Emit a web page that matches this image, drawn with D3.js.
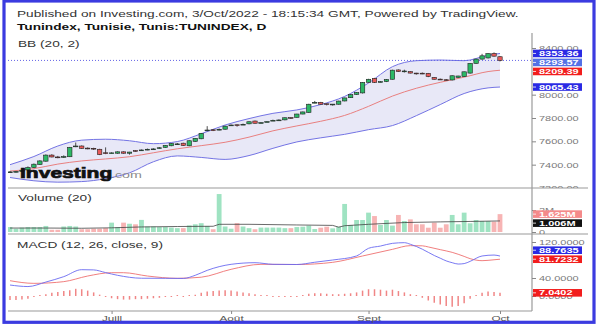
<!DOCTYPE html>
<html>
<head>
<meta charset="utf-8">
<script src="https://cdn.jsdelivr.net/npm/d3@7"></script>
<style>
  body { margin: 0; background: #fff; }
  svg { display: block; }
</style>
</head>
<body>
<svg id="chart" width="598" height="326"></svg>
<script>
// Tunindex daily bars, 7 Jun -> 3 Oct 2022
var open = [7336,7338,7342,7355,7376,7402,7430,7482,7466,7464, 7468,7556,7560,7542,7540,7532,7502,7500,7498,7510,
  7498,7521,7522,7528,7532,7540,7548,7562,7578,7584, 7562,7600,7622,7692,7699,7700,7704,7738,7742,7744,
  7750,7774,7758,7766,7778,7780,7784,7804,7806,7834, 7848,7930,7934,7922,7918,7918,7946,7974,8002,8015,
  8106,8140,8110,8112,8132,8212,8200,8197,8185,8184, 8183,8148,8133,8128,8126,8148,8155,8185,8268,8305,
  8315,8353,8325]
var high = [7345,7346,7360,7385,7410,7438,7488,7490,7475,7480, 7552,7590,7565,7548,7545,7536,7548,7506,7514,7514,
  7510,7524,7530,7538,7540,7550,7568,7585,7586,7588, 7608,7628,7672,7730,7705,7710,7734,7744,7744,7752,
  7770,7778,7764,7772,7786,7788,7805,7806,7836,7855, 7922,7946,7938,7924,7920,7948,7975,8004,8022,8108,
  8136,8144,8116,8134,8214,8216,8214,8200,8187,8190, 8186,8150,8138,8134,8165,8162,8198,8270,8308,8350,
  8356,8362,8330]
var low = [7330,7332,7338,7350,7372,7398,7425,7462,7455,7458, 7465,7550,7535,7532,7526,7482,7490,7494,7494,7494,
  7486,7512,7518,7524,7526,7536,7545,7558,7570,7560, 7558,7596,7618,7688,7688,7694,7700,7734,7726,7740,
  7746,7752,7755,7764,7774,7776,7780,7792,7804,7832, 7845,7926,7915,7908,7906,7915,7943,7972,7998,8010,
  8104,8100,8106,8108,8130,8195,8190,8182,8172,8176, 8150,8130,8126,8120,8122,8145,8152,8180,8265,8300,
  8310,8326,8285]
var close = [7338,7342,7352,7376,7404,7432,7482,7466,7464,7470, 7548,7560,7540,7540,7534,7486,7498,7501,7510,7498,
  7508,7519,7526,7532,7535,7545,7565,7582,7578,7564, 7605,7626,7668,7697,7696,7703,7730,7740,7741,7746,
  7768,7755,7760,7769,7780,7783,7802,7803,7834,7852, 7918,7934,7918,7920,7919,7945,7972,8000,8018,8105,
  8132,8105,8112,8130,8210,8198,8203,8185,8184,8182, 8156,8132,8131,8126,8162,8160,8196,8268,8305,8333,
  8352,8330,8293.57]

// volume, millions
var volume = [0.45,0.3,0.4,0.45,0.45,0.45,0.55,0.2,0.2,0.5, 0.55,0.5,0.25,0.25,0.3,0.3,0.35,0.85,0.45,0.85,
  0.75,0.7,1.1,0.5,0.5,0.45,0.45,0.4,0.35,0.35, 0.6,0.7,0.8,0.55,0.25,3.45,0.5,0.3,0.8,0.5,
  0.35,0.25,0.4,0.4,0.4,0.4,0.35,0.35,0.45,0.48, 0.58,0.27,0.39,0.48,0.33,0.48,2.55,0.64,1.09,1.09,
  1.76,1.45,0.64,1.09,0.58,1.55,1.0,1.15,0.7,0.7, 0.39,0.85,0.39,0.7,1.55,0.7,1.76,0.79,1.09,1.0,
  1.0,0.94,1.625]
var volMaIdx = [0,6,12,17,22,28,34,35,40,48,54,55,56,60,66,72,77,82]
var volMa = [0.36,0.36,0.34,0.38,0.46,0.5,0.52,0.7,0.7,0.64,0.6,0.44,0.57,0.7,0.86,0.92,0.96,1.006]

// bollinger bands (20, 2), sampled every few bars
var bbIdx = [0,4,8,12,16,20,24,28,32,36,40,44,48,52,56,60,64,68,72,76,80,82]
var bbUpper = [7400,7470,7560,7610,7618,7605,7580,7598,7665,7740,7795,7840,7869,7915,7985,8100,8240,8291,8297,8291,8338,8353.36]
var bbBasis = [7345,7366,7405,7432,7449,7468,7502,7536,7563,7592,7636,7690,7732,7772,7822,7900,7988,8055,8106,8150,8198,8209.39]
var bbLower = [7290,7262,7250,7255,7280,7330,7425,7475,7462,7445,7478,7540,7595,7630,7660,7700,7735,7820,7915,8010,8058,8065.43]

// MACD (12, 26, close, 9)
var macdIdx = [0,3,6,9,12,14,16,18,22,26,29,31,33,37,41,44,48,51,54,58,60,62,64,66,67,69,70,71,72,73,74,75,76,77,79,81,82]
var macdLine = [24.4,21,31,43,58.5,58,52,46,39.5,39.3,39,46,57,70.4,74,70.4,70,75,80,89,106,111,117,118.5,115,104,97,90,84,78,74,71,72,77,88.9,91,88.7635]
var signalIdx = [0,4,9,13,17,19,23,28,32,37,42,48,54,59,64,67,69,70,72,74,76,77,79,81,82]
var signalLine = [34,28.1,31.9,44.4,51.8,51.8,44.4,39.3,41.8,59.3,70.4,70,74.8,88.9,103.7,111.9,111.5,109,103,97,88,83,78.5,80.5,81.7232]
var macdHist = [-9,-9,-8,-6,-2,1,4,7,9,11, 13,16,15,12,8,3,-2,-5,-7,-8, -8,-7,-7,-6,-5,-4,-2,-1,0.5,-1,
  1,3,7,10,11,12,13,12,10,8, 6,4,2,0.5,-1,-2,-2,-1,-1,2, 5,6,6,5,4,4,5,6,8,12,
  15,15,14,12,14,11,8,4,1,-4, -10,-15,-19,-22,-24,-22,-16,-6,2,7, 10,9,7.0402]

var monthTicks = [17, 37, 60, 82]
var monthLabels = ['Juill', 'Août', 'Sept', 'Oct']
// ticks that stay visible next to the value boxes
var priceTicks = [7200, 7400, 7600, 7800, 8000, 8400]
var volTicks = [0, 2]
var macdTicks = [0, 40, 120]

var settings = {
  left: 8,
  right: 532,
  pricePane: [33, 188],
  volPane: [188, 234],
  macdPane: [234, 311],
  stretch: 1.5,
  font: "'Liberation Sans', Arial, sans-serif"
}

// the source image is squashed vertically, so text gets stretched sideways
function widen(sel, k) {
  sel.each(function() {
    var w = this.getComputedTextLength()
    this.setAttribute('lengthAdjust', 'spacingAndGlyphs')
    this.setAttribute('textLength', w * k)
  })
}

class Chart {

  constructor(selector, settings) {
    this.selector = selector
    this.settings = settings
  }

  init() {
    this.svg = d3.select(this.selector)
      .attr('font-family', this.settings.font)
    this.defs = this.svg.append('defs')
    this.initScales()
    this.drawPrice()
    this.drawVolume()
    this.drawMacd()
    this.drawFrame()
    this.drawAxes()
    this.drawTitles()
    this.drawBoxes()
  }

  initScales() {
    this.x = d3.scaleLinear().domain([0, close.length - 1]).range([10, 500])
    this.yPrice = d3.scaleLinear().domain([7200, 8400]).range([188, 48])
    this.yVol = d3.scaleLinear().domain([0, 2]).range([232, 210])
    this.yMacd = d3.scaleLinear().domain([0, 120]).range([296, 242])
  }

  clip(id, x0, x1, pane) {
    this.defs.append('clipPath').attr('id', id)
      .append('rect')
        .attr('x', x0).attr('y', pane[0])
        .attr('width', x1 - x0).attr('height', pane[1] - pane[0])
    return `url(#${id})`
  }

  drawPrice() {
    var s = this.settings, x = this.x, y = this.yPrice
    var g = this.svg.append('g')
      .attr('clip-path', this.clip('clip-price', s.left, s.right, s.pricePane))

    var bands = bbIdx.map((i, k) => ({ i: i, u: bbUpper[k], b: bbBasis[k], l: bbLower[k] }))
    var curve = d3.curveMonotoneX

    g.append('path')
      .attr('d', d3.area().x(d => x(d.i)).y0(d => y(d.l)).y1(d => y(d.u)).curve(curve)(bands))
      .attr('fill', '#e8e8f7')

    var bandLine = key => d3.line().x(d => x(d.i)).y(d => y(d[key])).curve(curve)(bands)
    g.append('path').attr('d', bandLine('u')).attr('fill', 'none').attr('stroke', '#7474e4').attr('stroke-width', 1)
    g.append('path').attr('d', bandLine('l')).attr('fill', 'none').attr('stroke', '#7474e4').attr('stroke-width', 1)
    g.append('path').attr('d', bandLine('b')).attr('fill', 'none').attr('stroke', '#e98080').attr('stroke-width', 1)

    // last price line
    g.append('line')
      .attr('x1', s.left).attr('x2', s.right)
      .attr('y1', y(close[close.length - 1])).attr('y2', y(close[close.length - 1]))
      .attr('stroke', '#6464e6').attr('stroke-dasharray', '1,2')

    var bars = close.map((c, i) => ({ i: i, o: open[i], h: high[i], l: low[i], c: c }))
    var candle = g.selectAll('g.candle').data(bars)
      .enter().append('g')
        .attr('class', 'candle')

    candle.append('line')
      .attr('x1', d => x(d.i)).attr('x2', d => x(d.i))
      .attr('y1', d => y(d.h)).attr('y2', d => y(d.l))
      .attr('stroke', '#222').attr('stroke-width', 0.8)

    candle.append('rect')
      .attr('x', d => x(d.i) - 2.2)
      .attr('width', 4.4)
      .attr('y', d => y(Math.max(d.o, d.c)))
      .attr('height', d => Math.max(0.8, Math.abs(y(d.o) - y(d.c))))
      .attr('fill', d => d.c >= d.o ? '#2cb866' : '#e85a5a')
      .attr('stroke', '#222').attr('stroke-width', 0.6)

    // watermark drawn over the first candles, as in the source
    var logo = g.append('text')
      .attr('x', 20).attr('y', 177.5)
      .attr('font-size', 14.5).attr('font-weight', 'bold').attr('fill', '#111')
      .attr('stroke', '#111').attr('stroke-width', 0.7)
      .text('Investing')
    widen(logo, 1.45)
    var com = g.append('text')
      .attr('x', 111).attr('y', 177.5)
      .attr('font-size', 9.5).attr('fill', '#8a8a8a')
      .text('.com')
    widen(com, s.stretch)
  }

  drawVolume() {
    var s = this.settings, x = this.x, y = this.yVol
    var g = this.svg.append('g')
      .attr('clip-path', this.clip('clip-vol', s.left, s.right, s.volPane))

    g.selectAll('rect').data(volume)
      .enter().append('rect')
        .attr('x', (d, i) => x(i) - 2.4)
        .attr('width', 4.8)
        .attr('y', d => y(d))
        .attr('height', d => y(0) - y(d))
        .attr('fill', (d, i) => close[i] >= open[i] ? '#9fe3c2' : '#f7b4b4')

    var ma = volMaIdx.map((i, k) => [x(i), y(volMa[k])])
    g.append('path')
      .attr('d', d3.line()(ma))
      .attr('fill', 'none').attr('stroke', '#444').attr('stroke-width', 0.8)
  }

  drawMacd() {
    var s = this.settings, x = this.x, y = this.yMacd
    var g = this.svg.append('g')
      .attr('clip-path', this.clip('clip-macd', s.left, s.right, s.macdPane))

    g.selectAll('line.hist').data(macdHist)
      .enter().append('line')
        .attr('class', 'hist')
        .attr('x1', (d, i) => x(i)).attr('x2', (d, i) => x(i))
        .attr('y1', y(0))
        .attr('y2', d => Math.abs(y(d) - y(0)) < 1 ? y(0) + (d < 0 ? 1 : -1) : y(d))
        .attr('stroke', '#f08686').attr('stroke-width', 1.5)

    var line = d3.line().curve(d3.curveMonotoneX)
    g.append('path')
      .attr('d', line(signalIdx.map((i, k) => [x(i), y(signalLine[k])])))
      .attr('fill', 'none').attr('stroke', '#ee7070').attr('stroke-width', 0.9)
    g.append('path')
      .attr('d', line(macdIdx.map((i, k) => [x(i), y(macdLine[k])])))
      .attr('fill', 'none').attr('stroke', '#6a6af0').attr('stroke-width', 0.9)
  }

  drawFrame() {
    var s = this.settings
    var grid = '#9a9a9a'
    this.svg.append('line')
      .attr('x1', s.right).attr('x2', s.right)
      .attr('y1', s.pricePane[0]).attr('y2', s.macdPane[1])
      .attr('stroke', grid).attr('stroke-width', 1.2)
    ;[s.volPane[0], s.macdPane[0]].forEach(yy => {
      this.svg.append('line')
        .attr('x1', s.left).attr('x2', 588)
        .attr('y1', yy).attr('y2', yy)
        .attr('stroke', grid).attr('stroke-width', 1.2)
    })
    this.svg.append('line')
      .attr('x1', s.left).attr('x2', s.right)
      .attr('y1', s.macdPane[1]).attr('y2', s.macdPane[1])
      .attr('stroke', grid).attr('stroke-width', 1.2)

    this.svg.append('rect')
      .attr('x', 4).attr('y', 1)
      .attr('width', 590).attr('height', 321.3)
      .attr('fill', 'none')
      .attr('stroke', '#3b3be0').attr('stroke-width', 3.2)
  }

  yAxis(scale, ticks, fmt, pane, id) {
    var s = this.settings
    var wrap = this.svg.append('g')
      .attr('clip-path', this.clip(id, s.right, 598, pane))
    var g = wrap.append('g')
      .attr('transform', `translate(${ s.right },0)`)
      .call(d3.axisRight(scale).tickValues(ticks).tickFormat(fmt).tickSize(4).tickPadding(3))
    g.select('.domain').remove()
    g.selectAll('line').attr('stroke', '#888')
    g.selectAll('text')
      .attr('fill', '#7a7a7a')
      .attr('font-size', 7.3)
      .attr('font-family', s.font)
    widen(g.selectAll('text'), s.stretch)
  }

  drawAxes() {
    var s = this.settings
    this.yAxis(this.yPrice, priceTicks, d3.format('.2f'), s.pricePane, 'clip-pa')
    this.yAxis(this.yVol, volTicks, d => d === 0 ? '0' : d + 'M', s.volPane, 'clip-va')
    this.yAxis(this.yMacd, macdTicks, d3.format('.4f'), s.macdPane, 'clip-ma')

    var time = this.svg.append('g')
      .attr('transform', `translate(0,${ s.macdPane[1] })`)
      .call(d3.axisBottom(this.x).tickValues(monthTicks).tickFormat((d, i) => monthLabels[i]).tickSize(3).tickPadding(1))
    time.select('.domain').remove()
    time.selectAll('line').attr('stroke', '#888')
    time.selectAll('text')
      .attr('fill', '#555')
      .attr('font-size', 7.8)
      .attr('font-family', s.font)
    widen(time.selectAll('text'), s.stretch)
  }

  drawTitles() {
    var s = this.settings
    var titles = [
      { text: 'Published on Investing.com, 3/Oct/2022 - 18:15:34 GMT, Powered by TradingView.', x: 17, y: 16.5, weight: 'normal', fill: '#333' },
      { text: 'Tunindex, Tunisie, Tunis:TUNINDEX, D', x: 17, y: 29.5, weight: 'bold', fill: '#111' },
      { text: 'BB (20, 2)', x: 18, y: 47, weight: 'normal', fill: '#333' },
      { text: 'Volume (20)', x: 18, y: 200.5, weight: 'normal', fill: '#333' },
      { text: 'MACD (12, 26, close, 9)', x: 17, y: 247.5, weight: 'normal', fill: '#333' }
    ]
    var t = this.svg.append('g').selectAll('text').data(titles)
      .enter().append('text')
        .attr('x', d => d.x).attr('y', d => d.y)
        .attr('font-size', 9)
        .attr('font-weight', d => d.weight)
        .attr('fill', d => d.fill)
        .text(d => d.text)
    widen(t, 1.52)
  }

  drawBoxes() {
    var s = this.settings
    var n = close.length - 1
    var f2 = d3.format('.2f'), f4 = d3.format('.4f')
    var groups = [
      { scale: this.yPrice, items: [
        { v: bbUpper[bbUpper.length - 1], text: f2(bbUpper[bbUpper.length - 1]), fill: '#2a2ae4' },
        { v: close[n], text: f2(close[n]), fill: '#5371e6' },
        { v: bbBasis[bbBasis.length - 1], text: f2(bbBasis[bbBasis.length - 1]), fill: '#f21d1d' },
        { v: bbLower[bbLower.length - 1], text: f2(bbLower[bbLower.length - 1]), fill: '#2a2ae4' }
      ] },
      { scale: this.yVol, items: [
        { v: volume[n], text: d3.format('.3f')(volume[n]) + 'M', fill: '#f48a8a' },
        { v: volMa[volMa.length - 1], text: d3.format('.3f')(volMa[volMa.length - 1]) + 'M', fill: '#111' }
      ] },
      { scale: this.yMacd, items: [
        { v: signalLine[signalLine.length - 1], text: f4(signalLine[signalLine.length - 1]), fill: '#f21d1d' },
        { v: macdLine[macdLine.length - 1], text: f4(macdLine[macdLine.length - 1]), fill: '#2a2ae4' },
        { v: macdHist[n], text: f4(macdHist[n]), fill: '#f21d1d' }
      ] }
    ]

    var sep = 9
    var items = []
    groups.forEach(grp => {
      var placed = []
      grp.items.forEach(d => {
        var yy = grp.scale(d.v)
        placed.forEach(p => {
          if (Math.abs(yy - p) < sep) yy = yy < p ? p - sep : p + sep
        })
        placed.push(yy)
        d.y = yy
        items.push(d)
      })
    })

    var box = this.svg.append('g').selectAll('g').data(items)
      .enter().append('g')
        .attr('transform', d => `translate(${ s.right + 1 },${ d.y })`)
    box.append('rect')
      .attr('y', -3.8).attr('width', 49).attr('height', 7.6)
      .attr('fill', d => d.fill)
    box.append('line')
      .attr('x1', 0).attr('x2', 3).attr('y1', 0).attr('y2', 0)
      .attr('stroke', '#fff').attr('stroke-width', 0.8)
    var txt = box.append('text')
      .attr('x', 6).attr('dy', 2.6)
      .attr('font-size', 7.3).attr('font-weight', 'bold')
      .attr('fill', '#fff')
      .text(d => d.text)
    widen(txt, s.stretch)
  }
}

new Chart('#chart', settings).init()
</script>
</body>
</html>
